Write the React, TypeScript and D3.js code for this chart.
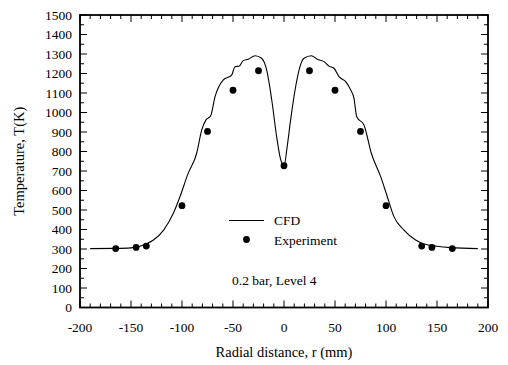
import React from "react";
import * as d3 from "d3";

const cfdR = [-190, -165, -150, -135, -128, -118, -108.5, -102, -94, -85.6, -80.7, -76.5, -72, -67.6, -59.5, -51.3, -48, -43.8, -40, -35, -28.4, -22, -17, -12, -7.2, -3.9, 0,
  3, 6.5, 11.4, 15.7, 19.6, 26.8, 32.6, 39.2, 44.1, 49, 53.9, 60.5, 65.4, 68.6, 71.3, 78.4, 85.6, 94.8, 101.3, 107.8, 117.6, 129, 137.3, 150, 163.4, 190];
const cfdT = [302, 303, 306, 326, 346, 397, 483, 568, 688, 791, 910, 962, 982, 1081, 1167, 1192, 1235, 1238, 1266, 1273, 1291, 1278, 1218, 1064, 876, 773, 725,
  820, 962, 1132, 1235, 1278, 1291, 1273, 1261, 1238, 1227, 1184, 1158, 1115, 1073, 978, 936, 791, 671, 568, 466, 397, 346, 326, 314, 307, 302];

const expR = [-165, -145, -135, -100, -75, -50, -25, 0, 25, 50, 75, 100, 135, 145, 165];
const expT = [302, 308, 315, 522, 903, 1114, 1214, 727, 1214, 1114, 903, 522, 315, 308, 302];

const xTicks = [-200, -150, -100, -50, 0, 50, 100, 150, 200];
const yTicks = [0, 100, 200, 300, 400, 500, 600, 700, 800, 900, 1000, 1100, 1200, 1300, 1400, 1500];

export default function App() {
  const W = 508, H = 365;
  const L = 80, R = 488, T = 15, B = 307.5;
  const x = d3.scaleLinear().domain([-200, 200]).range([L, R]);
  const y = d3.scaleLinear().domain([0, 1500]).range([B, T]);
  const ts: React.CSSProperties = { fontFamily: "'Liberation Serif', 'DejaVu Serif', serif" };

  const line = d3.line<number>()
    .x((_, i) => x(cfdR[i]))
    .y((d) => y(d))
    .curve(d3.curveMonotoneX);

  const xMinor = d3.range(-200, 201, 10);
  const yMinor = d3.range(0, 1501, 50);

  return (
    <svg width={W} height={H} style={{ position: "absolute", left: 0, top: 0 }}>
      <rect width={W} height={H} fill="white" />
      {xMinor.map((v) => {
        const major = v % 50 === 0;
        const len = major ? 7 : 4;
        return (
          <g key={"xt" + v} stroke="#000" strokeWidth={1}>
            <line x1={x(v)} x2={x(v)} y1={B} y2={B - len} />
            <line x1={x(v)} x2={x(v)} y1={T} y2={T + len} />
          </g>
        );
      })}
      {yMinor.map((v) => {
        const major = v % 100 === 0;
        const len = major ? 7 : 4;
        return (
          <g key={"yt" + v} stroke="#000" strokeWidth={1}>
            <line x1={L} x2={L + len} y1={y(v)} y2={y(v)} />
            <line x1={R} x2={R - len} y1={y(v)} y2={y(v)} />
          </g>
        );
      })}
      <rect x={L} y={T} width={R - L} height={B - T} fill="none" stroke="#000" strokeWidth={1.8} />
      {xTicks.map((v) => (
        <text key={"xl" + v} x={x(v)} y={332} fontSize={13.5} textAnchor="middle" style={ts}>{v}</text>
      ))}
      {yTicks.map((v) => (
        <text key={"yl" + v} x={72} y={y(v) + 4.5} fontSize={13.5} textAnchor="end" style={ts}>{v}</text>
      ))}
      <text x={x(0)} y={357} fontSize={14.5} textAnchor="middle" style={ts}>Radial distance, r (mm)</text>
      <text transform={`translate(24,${(T + B) / 2}) rotate(-90)`} fontSize={14.5} textAnchor="middle" style={ts}>Temperature, T(K)</text>

      <path d={line(cfdT) || ""} fill="none" stroke="#000" strokeWidth={1.1} />
      {expR.map((r, i) => (
        <circle key={"e" + i} cx={x(r)} cy={y(expT[i])} r={3.4} fill="#000" />
      ))}

      <line x1={229} x2={264} y1={220.5} y2={220.5} stroke="#000" strokeWidth={1.1} />
      <text x={274} y={225} fontSize={13.5} style={ts}>CFD</text>
      <circle cx={246.5} cy={239.5} r={3.4} fill="#000" />
      <text x={274} y={244.5} fontSize={13.5} style={ts}>Experiment</text>
      <text x={232} y={285} fontSize={13.5} style={ts}>0.2 bar, Level 4</text>
    </svg>
  );
}
